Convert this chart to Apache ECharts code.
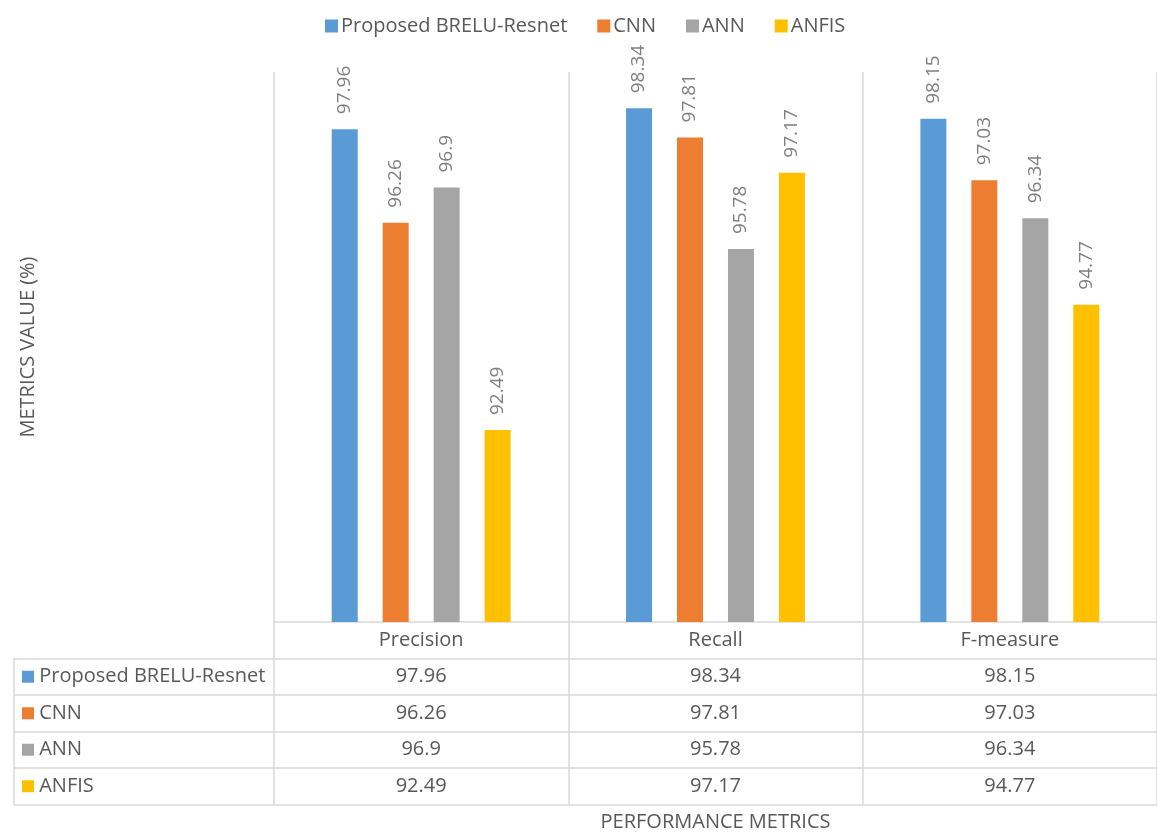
<!DOCTYPE html>
<html>
<head>
<meta charset="utf-8">
<script src="https://cdn.jsdelivr.net/npm/echarts@6/dist/echarts.min.js"></script>
<style>
  html, body { margin: 0; padding: 0; background: #fff; }
  #chart { width: 1157px; height: 832px; }
</style>
</head>
<body>
<div id="chart"></div>
<script>
var categories = ['Precision', 'Recall', 'F-measure'];
var seriesNames = ['Proposed BRELU-Resnet', 'CNN', 'ANN', 'ANFIS'];
var brelu = [97.96, 98.34, 98.15];
var cnn = [96.26, 97.81, 97.03];
var ann = [96.9, 95.78, 96.34];
var anfis = [92.49, 97.17, 94.77];
var values = [brelu, cnn, ann, anfis];
var colors = ['#5b9bd5', '#ed7d31', '#a5a5a5', '#ffc000'];

var chart = echarts.init(document.getElementById('chart'));
var font = '"Open Sans", "Noto Sans", sans-serif';
var lineColor = '#d9d9d9';
var rowH = 36.5;

// table rows are extra category axes stacked under the plot
var xAxes = [];
for (var r = 0; r <= values.length + 1; r++) {
  (function (r) {
    var ax = {
      type: 'category',
      gridIndex: 0,
      data: categories,
      position: 'bottom',
      offset: r * rowH,
      axisLine: { show: true, lineStyle: { color: lineColor, width: 1.5 } },
      axisTick: { show: r <= values.length, interval: 0, length: rowH, lineStyle: { color: lineColor, width: 1.5 } },
      axisLabel: {
        show: r <= values.length,
        interval: 0,
        margin: 8,
        color: '#595959',
        fontSize: 20,
        fontFamily: font,
        formatter: function (v, i) { return r === 0 ? v : String(values[r - 1][i]); }
      },
      splitLine: { show: r === 0, interval: 0, lineStyle: { color: lineColor, width: 1.5 } }
    };
    if (r === values.length + 1) {
      ax.name = 'PERFORMANCE METRICS';
      ax.nameLocation = 'middle';
      ax.nameGap = 8;
      ax.nameTextStyle = { color: '#595959', fontSize: 20, fontFamily: font };
    }
    xAxes.push(ax);
  })(r);
}
// hidden x axis for the legend column grid
xAxes.push({ type: 'value', gridIndex: 1, show: false });

var rich = {};
colors.forEach(function (c, i) { rich['k' + i] = { width: 12, height: 12, backgroundColor: c }; });

var series = seriesNames.map(function (name, i) {
  return {
    name: name,
    type: 'bar',
    xAxisIndex: 0,
    yAxisIndex: 0,
    barWidth: 26,
    barGap: '96%',
    itemStyle: { color: colors[i] },
    label: {
      show: true,
      position: 'top',
      rotate: 90,
      align: 'left',
      verticalAlign: 'middle',
      distance: 15,
      color: '#7f7f7f',
      fontSize: 19,
      fontFamily: font
    },
    data: values[i]
  };
});

var option = {
  animation: false,
  textStyle: { fontFamily: font },
  legend: {
    top: 11,
    left: 320,
    itemWidth: 13,
    itemHeight: 13,
    itemGap: 30,
    icon: 'rect',
    textStyle: { color: '#595959', fontSize: 20, fontFamily: font, padding: [0, 0, 0, -2] },
    data: seriesNames
  },
  grid: [
    { left: 274, right: 0, top: 72, bottom: 210, outerBoundsMode: 'none', containLabel: false },
    { left: 14, width: 260, top: 622 + rowH, height: rowH * 4, outerBoundsMode: 'none', containLabel: false }
  ],
  xAxis: xAxes,
  yAxis: [
    {
      type: 'value',
      gridIndex: 0,
      min: 89,
      max: 99,
      interval: 1,
      axisLabel: { show: false },
      axisLine: { show: false },
      axisTick: { show: false },
      splitLine: { show: false },
      name: 'METRICS VALUE (%)',
      nameLocation: 'middle',
      nameRotate: 90,
      nameGap: 236,
      nameTextStyle: { color: '#595959', fontSize: 20, fontFamily: font }
    },
    {
      type: 'category',
      gridIndex: 1,
      inverse: true,
      data: seriesNames,
      axisLine: { show: true, lineStyle: { color: lineColor, width: 1.5 } },
      axisTick: { show: false },
      splitLine: { show: true, interval: 0, lineStyle: { color: lineColor, width: 1.5 } },
      axisLabel: {
        inside: true,
        interval: 0,
        margin: 8,
        color: '#595959',
        fontSize: 20,
        fontFamily: font,
        formatter: function (v, i) { return '{k' + i + '|} ' + v; },
        rich: rich
      }
    }
  ],
  series: series
};

chart.setOption(option);
</script>
</body>
</html>
